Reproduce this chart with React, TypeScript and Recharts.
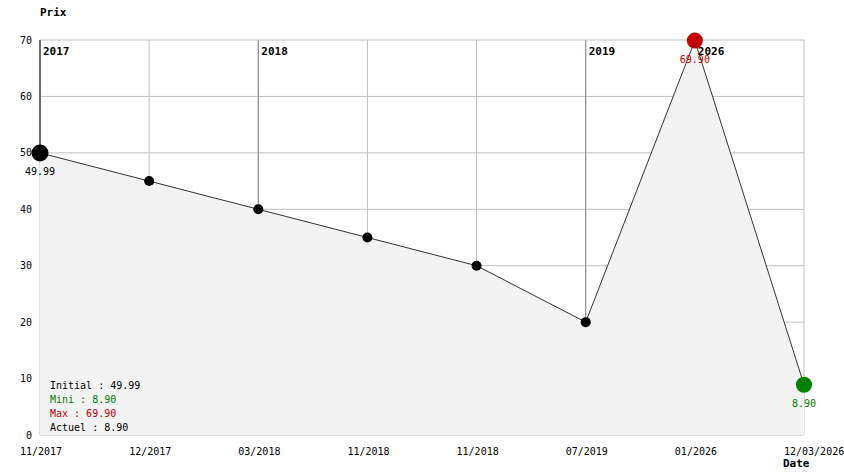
import { ComposedChart, Area, XAxis, YAxis, CartesianGrid, ReferenceLine } from 'recharts';

const dates = ['11/2017', '12/2017', '03/2018', '11/2018', '11/2018', '07/2019', '01/2026', '12/03/2026'];
const prices = [49.99, 45, 40, 35, 30, 20, 69.9, 8.9];
const yearIndexes = [0, 2, 5, 6];
const yearLabels = ['2017', '2018', '2019', '2026'];
const priceTicks = [0, 10, 20, 30, 40, 50, 60, 70];

const FONT = '"DejaVu Sans Mono", monospace';
const RED = '#c00000';
const GREEN = '#008000';

const data = prices.map((price, i) => ({ i, price }));

const initial = prices[0];
const mini = Math.min(...prices);
const maxi = Math.max(...prices);
const actuel = prices[prices.length - 1];
const maxIndex = prices.indexOf(maxi);
const lastIndex = prices.length - 1;

const PriceDot = (props: any) => {
    const { cx, cy, index } = props;
    if (cx == null || cy == null) return null;
    let r = 5;
    let color = '#000';
    let label: string | null = null;
    if (index === 0) {
        r = 8.5;
        label = prices[0].toFixed(2);
    }
    if (index === maxIndex) {
        r = 8;
        color = RED;
        label = prices[index].toFixed(2);
    }
    if (index === lastIndex) {
        r = 8;
        color = GREEN;
        label = prices[index].toFixed(2);
    }
    return (
        <g key={`dot-${index}`}>
            <circle cx={cx} cy={cy} r={r} fill={color} />
            {label && (
                <text x={cx} y={cy + 22} textAnchor='middle' fontFamily={FONT} fontSize={10} fill={color}>
                    {label}
                </text>
            )}
        </g>
    );
};

const YearLabel = ({ viewBox, value }: any) => {
    if (!viewBox) return null;
    return (
        <text x={viewBox.x + 3} y={viewBox.y + 15} fontFamily={FONT} fontSize={11} fontWeight='bold' fill='#000'>
            {value}
        </text>
    );
};

// date labels start ~20px left of their point, so the last one runs off the edge
const DateTick = ({ x, y, payload }: any) => (
    <text x={x - 20} y={y + 12} fontFamily={FONT} fontSize={10} fill='#000'>
        {dates[payload.value]}
    </text>
);

const App = () => {
    return (
        <div style={{ position: 'absolute', left: 0, top: 0, width: 844, height: 474, background: '#fff', overflow: 'hidden' }}>
            <ComposedChart width={844} height={474} data={data} margin={{ top: 40, right: 40, left: 0, bottom: 9 }} style={{ overflow: 'visible' }}>
                <CartesianGrid stroke='#c0c0c0' strokeWidth={1} />
                <XAxis
                    dataKey='i'
                    type='number'
                    domain={[0, dates.length - 1]}
                    ticks={dates.map((_, i) => i)}
                    interval={0}
                    tick={<DateTick />}
                    tickLine={false}
                    axisLine={false}
                    height={30}
                />
                <YAxis
                    type='number'
                    domain={[0, 70]}
                    ticks={priceTicks}
                    tick={{ fontSize: 10, fontFamily: FONT, fill: '#000' }}
                    tickLine={false}
                    axisLine={false}
                    width={40}
                />
                {yearIndexes.map((idx, k) => (
                    <ReferenceLine
                        key={yearLabels[k]}
                        segment={[{ x: idx, y: 70 }, { x: idx, y: prices[idx] }]}
                        stroke={k === 0 ? '#000' : '#888'}
                        strokeWidth={1}
                        label={<YearLabel value={yearLabels[k]} />}
                    />
                ))}
                <Area
                    type='linear'
                    dataKey='price'
                    stroke='#333'
                    strokeWidth={1}
                    fill='#f2f2f2'
                    fillOpacity={1}
                    dot={PriceDot}
                    activeDot={false}
                    isAnimationActive={false}
                />
            </ComposedChart>
            <svg width={844} height={474} style={{ position: 'absolute', left: 0, top: 0, pointerEvents: 'none' }}>
                <text x={40} y={16} fontFamily={FONT} fontSize={11} fontWeight='bold' fill='#000'>Prix</text>
                <text x={783} y={467} fontFamily={FONT} fontSize={11} fontWeight='bold' fill='#000'>Date</text>
                <text x={50} y={389} fontFamily={FONT} fontSize={10} fill='#000'>{`Initial : ${initial.toFixed(2)}`}</text>
                <text x={50} y={403} fontFamily={FONT} fontSize={10} fill={GREEN}>{`Mini : ${mini.toFixed(2)}`}</text>
                <text x={50} y={417} fontFamily={FONT} fontSize={10} fill={RED}>{`Max : ${maxi.toFixed(2)}`}</text>
                <text x={50} y={431} fontFamily={FONT} fontSize={10} fill='#000'>{`Actuel : ${actuel.toFixed(2)}`}</text>
            </svg>
        </div>
    );
};

export default App;
